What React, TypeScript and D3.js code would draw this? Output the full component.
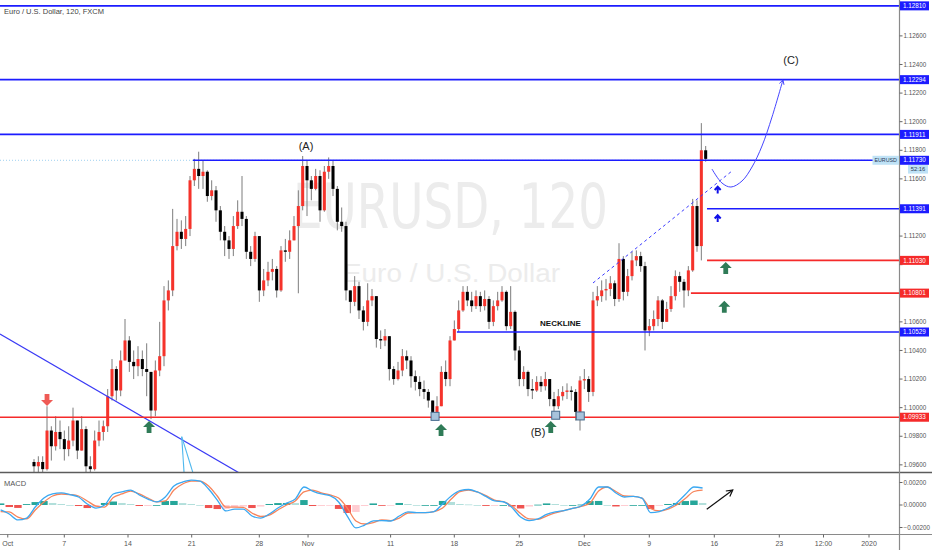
import React from 'react';
import * as d3 from 'd3';

// ---------- price data (2h EURUSD, sampled) ----------
const firstBarDay = 1.67;
const barStepDays = 1 / 3;
const firstOpen = 1.0962;
const closes = [
  1.0959,1.0962,1.0957,1.0984,1.0973,1.0983,1.0978,1.0971,1.0977,1.0991,
  1.0970,1.0985,1.0959,1.0957,1.0977,1.0983,1.0987,1.1008,1.1027,1.1012,
  1.1033,1.1047,1.1032,1.1029,1.1034,1.1027,1.1025,1.0998,1.1026,1.1036,
  1.1075,1.1082,1.1113,1.1123,1.1118,1.1125,1.1159,1.1167,1.1162,1.1165,
  1.1148,1.1152,1.1138,1.1123,1.1117,1.1111,1.1127,1.1137,1.1132,1.1109,
  1.1104,1.1120,1.1082,1.1089,1.1095,1.1097,1.1082,1.1110,1.1109,1.1117,
  1.1127,1.1141,1.1169,1.1159,1.1153,1.1162,1.1138,1.1165,1.1169,1.1153,
  1.1130,1.1127,1.1082,1.1074,1.1085,1.1068,1.1060,1.1075,1.1078,1.1048,
  1.1047,1.1050,1.1027,1.1020,1.1026,1.1036,1.1033,1.1022,1.1018,1.1013,
  1.1011,1.1005,1.0997,1.1001,1.1025,1.1020,1.1047,1.1055,1.1068,1.1081,
  1.1075,1.1071,1.1078,1.1071,1.1076,1.1060,1.1071,1.1075,1.1081,1.1057,
  1.1067,1.1040,1.1020,1.1025,1.1013,1.1012,1.1018,1.1015,1.1020,1.1006,
  1.1001,1.1008,1.1011,1.1012,1.1011,1.0997,1.1019,1.1020,1.1011,1.1075,
  1.1078,1.1082,1.1083,1.1087,1.1076,1.1104,1.1081,1.1092,1.1103,1.1106,
  1.1099,1.1054,1.1057,1.1062,1.1075,1.1060,1.1069,1.1078,1.1092,1.1088,
  1.1082,1.1096,1.1141,1.1113,1.1180,1.1174,
];
const highs = [
  1.0964,1.0966,1.0966,1.1001,1.0987,1.0994,1.0991,1.0984,1.0987,1.1000,
  1.0987,1.0994,1.0987,1.0966,1.0984,1.0991,1.0991,1.1013,1.1034,1.1029,
  1.1040,1.1062,1.1050,1.1040,1.1043,1.1040,1.1045,1.1019,1.1033,1.1060,
  1.1085,1.1089,1.1139,1.1132,1.1131,1.1134,1.1162,1.1174,1.1179,1.1173,
  1.1166,1.1159,1.1155,1.1141,1.1127,1.1120,1.1134,1.1145,1.1162,1.1134,
  1.1113,1.1123,1.1120,1.1097,1.1102,1.1104,1.1099,1.1113,1.1118,1.1124,
  1.1134,1.1152,1.1176,1.1173,1.1162,1.1167,1.1166,1.1169,1.1175,1.1173,
  1.1155,1.1140,1.1130,1.1082,1.1092,1.1088,1.1071,1.1087,1.1083,1.1078,
  1.1054,1.1055,1.1050,1.1029,1.1032,1.1041,1.1040,1.1036,1.1026,1.1022,
  1.1019,1.1013,1.1005,1.1008,1.1029,1.1033,1.1050,1.1061,1.1075,1.1085,
  1.1085,1.1081,1.1082,1.1081,1.1082,1.1078,1.1075,1.1081,1.1085,1.1082,
  1.1085,1.1068,1.1043,1.1029,1.1026,1.1020,1.1022,1.1022,1.1025,1.1020,
  1.1011,1.1013,1.1015,1.1017,1.1015,1.1013,1.1022,1.1027,1.1022,1.1081,
  1.1085,1.1089,1.1090,1.1092,1.1089,1.1115,1.1106,1.1097,1.1109,1.1110,
  1.1109,1.1102,1.1062,1.1068,1.1078,1.1076,1.1074,1.1085,1.1096,1.1095,
  1.1090,1.1099,1.1146,1.1145,1.1199,1.1183,
];
const lows = [
  1.0949,1.0955,1.0950,1.0956,1.0963,1.0970,1.0971,1.0963,1.0966,1.0973,
  1.0964,1.0977,1.0952,1.0950,1.0956,1.0973,1.0977,1.0983,1.1005,1.1005,
  1.1008,1.1033,1.1025,1.1020,1.1022,1.1022,1.1008,1.0992,1.0994,1.1022,
  1.1029,1.1068,1.1078,1.1110,1.1111,1.1113,1.1120,1.1155,1.1153,1.1153,
  1.1144,1.1145,1.1130,1.1117,1.1106,1.1104,1.1106,1.1125,1.1127,1.1104,
  1.1099,1.1102,1.1074,1.1078,1.1085,1.1089,1.1077,1.1081,1.1102,1.1104,
  1.1117,1.1080,1.1138,1.1134,1.1145,1.1152,1.1130,1.1137,1.1160,1.1148,
  1.1124,1.1123,1.1075,1.1066,1.1071,1.1062,1.1054,1.1057,1.1071,1.1042,
  1.1041,1.1043,1.1019,1.1016,1.1019,1.1022,1.1027,1.1014,1.1012,1.1008,
  1.1006,1.1000,1.0993,1.0992,1.1001,1.1015,1.1015,1.1047,1.1053,1.1067,
  1.1071,1.1067,1.1069,1.1067,1.1068,1.1055,1.1057,1.1068,1.1074,1.1054,
  1.1055,1.1033,1.1015,1.1015,1.1008,1.1006,1.1011,1.1011,1.1012,1.1001,
  1.0994,1.0999,1.1005,1.1006,1.1005,1.0991,1.0984,1.1013,1.1004,1.1008,
  1.1071,1.1074,1.1075,1.1078,1.1071,1.1074,1.1075,1.1078,1.1089,1.1099,
  1.1095,1.1040,1.1050,1.1054,1.1057,1.1055,1.1062,1.1067,1.1075,1.1081,
  1.1070,1.1078,1.1095,1.1109,1.1103,1.1172,
];

// ---------- MACD ----------
const macdStartDay = -0.9;
const macdStepDays = 2 / 3;
const macdLine = [
  -0.00044,-0.00080,-0.00133,-0.00116,-0.00018,0.00062,0.00098,0.00107,0.00093,0.00071,
  0.00009,-0.00027,0.00000,0.00098,0.00116,0.00133,0.00089,0.00053,0.00027,0.00071,
  0.00169,0.00204,0.00222,0.00213,0.00142,0.00044,-0.00053,-0.00036,-0.00036,-0.00098,
  -0.00116,-0.00080,-0.00027,0.00018,0.00053,0.00160,0.00124,0.00098,0.00084,0.00027,
  -0.00098,-0.00204,-0.00178,-0.00142,-0.00138,-0.00142,-0.00098,-0.00062,-0.00067,-0.00067,
  -0.00058,0.00009,0.00080,0.00127,0.00138,0.00116,0.00076,0.00036,0.00029,-0.00022,
  -0.00107,-0.00138,-0.00124,-0.00084,-0.00062,-0.00049,-0.00031,-0.00009,0.00053,0.00160,
  0.00160,0.00107,0.00071,0.00077,0.00062,-0.00067,-0.00058,-0.00027,0.00018,0.00093,
  0.00160,0.00151,
];
const signalLine = [
  -0.00058,-0.00062,-0.00107,-0.00124,-0.00044,0.00027,0.00080,0.00098,0.00093,0.00080,
  0.00036,-0.00009,-0.00018,0.00067,0.00098,0.00124,0.00098,0.00062,0.00027,0.00036,
  0.00133,0.00187,0.00213,0.00213,0.00169,0.00080,-0.00018,-0.00018,-0.00022,-0.00071,
  -0.00102,-0.00089,-0.00044,0.00000,0.00036,0.00116,0.00133,0.00107,0.00089,0.00062,
  -0.00027,-0.00142,-0.00169,-0.00156,-0.00133,-0.00138,-0.00116,-0.00071,-0.00067,-0.00067,
  -0.00058,-0.00027,0.00053,0.00118,0.00133,0.00116,0.00084,0.00044,0.00029,-0.00009,
  -0.00076,-0.00124,-0.00127,-0.00098,-0.00071,-0.00049,-0.00031,-0.00013,0.00018,0.00124,
  0.00160,0.00120,0.00080,0.00077,0.00062,-0.00031,-0.00053,-0.00036,0.00000,0.00058,
  0.00120,0.00133,
];

// ---------- axes ----------
const priceTicks = [1.096,1.098,1.100,1.102,1.104,1.106,1.108,1.110,1.112,1.114,1.116,1.118,1.120,1.122,1.124,1.126,1.128];
const macdTicks = [0.002, 0, -0.002];
const timeLabels = ['Oct','7','14','21','28','Nov','11','18','25','Dec','9','16','23','12:00','2020'];
const timeDays = [-0.35,4,8.9,13.8,19,22.75,29.1,34,39,44,49,54,59,62.4,65.9];

// ---------- drawn levels ----------
const levelPrices = [1.12810,1.12294,1.11911,1.11730,1.11391,1.11030,1.10801,1.10529,1.09933];
const levelFromDays = [-2,-2,-2,13.9,53.44,53.44,52.2,34.2,-2];
const levelKinds = ['up','up','up','up','up','down','down','up','down'];
const lastPrice = 1.11730;

// ---------- annotations ----------
const trendDays = [-0.95, 17.9];
const trendPrices = [1.10515, 1.0952];
const fanStart = { day: 13.03, price: 1.09797 };
const fanEndDays = [13.25, 14.07];
const fanEndPrice = 1.09494;
const channelDays = [44.67, 55.36];
const channelPrices = [1.10872, 1.11655];
const pathDays = [53.82, 54.59, 55.28, 56.13, 56.9, 57.67, 58.44, 59.28];
const pathPrices = [1.11669, 1.11571, 1.11543, 1.11585, 1.11683, 1.1183, 1.12033, 1.12292];
const greenDays = [10.52, 32.98, 41.42, 54.88, 54.77];
const greenPrices = [1.09865, 1.09844, 1.09865, 1.10977, 1.10706];
const redDays = [2.67];
const redPrices = [1.10054];
const blueArrowDays = [54.26, 54.26];
const blueArrowPrices = [1.11522, 1.11323];
const boxDays = [32.52, 41.8, 43.69];
const boxPrices = [1.09939, 1.09947, 1.09942];
const waveLabels = ['(A)', '(B)', '(C)'];
const waveDays = [22.59, 40.44, 59.9];
const wavePrices = [1.1183, 1.0983, 1.12431];
const necklineDay = 42.17;
const necklinePrice = 1.10587;
const macdArrowDays = [53.42, 55.42];
const macdArrowValues = [-0.00038, 0.00133];

const BLUE = '#1c1cff';
const RED = '#f52a2a';
const FONT = "'Liberation Sans', Arial, sans-serif";

export default function App() {
  const W = 932, H = 550;
  const axisX = 899.5;
  const paneBottom = 472;
  const macdTop = 473, macdBottom = 534.5;

  const x = d3.scaleLinear().domain([0, 60]).range([12.3, 792.3]);
  const yP = d3.scaleLinear().domain([1.0955, 1.12851]).range([paneBottom, 0]);
  const yM = d3.scaleLinear().domain([-0.002, 0.002]).range([527.5, 482.5]);
  const f5 = d3.format('.5f');

  const barW = (x(barStepDays) - x(0)) * 0.7;
  const bars = closes.map((c, i) => {
    const open = i === 0 ? firstOpen : closes[i - 1];
    return { day: firstBarDay + i * barStepDays, open, close: c, high: highs[i], low: lows[i] };
  });

  const macdPts = macdLine.map((m, i) => ({ day: macdStartDay + i * macdStepDays, m, s: signalLine[i] }));
  const histW = (x(macdStepDays) - x(0)) - 1.2;
  const lineM = d3.line<any>().x(d => x(d.day)).y(d => yM(d.m)).curve(d3.curveMonotoneX);
  const lineS = d3.line<any>().x(d => x(d.day)).y(d => yM(d.s)).curve(d3.curveMonotoneX);

  const pathPts: [number, number][] = pathDays.map((d, i) => [x(d), yP(pathPrices[i])]);
  const curvePath = d3.line().curve(d3.curveCatmullRom.alpha(0.5))(pathPts) || '';
  const tip = pathPts[pathPts.length - 1];
  const prev = pathPts[pathPts.length - 2];
  const ang = Math.atan2(tip[1] - prev[1], tip[0] - prev[0]);
  const head = (t: [number, number], a: number, L: number) => {
    const p1 = [t[0] - L * Math.cos(a - 0.5), t[1] - L * Math.sin(a - 0.5)];
    const p2 = [t[0] - L * Math.cos(a + 0.5), t[1] - L * Math.sin(a + 0.5)];
    return `M${p1[0]},${p1[1]}L${t[0]},${t[1]}L${p2[0]},${p2[1]}`;
  };

  const ma0: [number, number] = [x(macdArrowDays[0]), yM(macdArrowValues[0])];
  const ma1: [number, number] = [x(macdArrowDays[1]), yM(macdArrowValues[1])];
  const maAng = Math.atan2(ma1[1] - ma0[1], ma1[0] - ma0[0]);

  const greenArrow = (cx: number, cy: number) =>
    `M${cx},${cy - 6}L${cx + 6},${cy}L${cx + 2.4},${cy}L${cx + 2.4},${cy + 6}L${cx - 2.4},${cy + 6}L${cx - 2.4},${cy}L${cx - 6},${cy}Z`;
  const redArrow = (cx: number, cy: number) =>
    `M${cx},${cy + 6}L${cx + 6},${cy}L${cx + 2.4},${cy}L${cx + 2.4},${cy - 6}L${cx - 2.4},${cy - 6}L${cx - 2.4},${cy}L${cx - 6},${cy}Z`;

  // hide axis tick labels that sit under a level label
  const visibleTicks = priceTicks.filter(t => levelPrices.every(p => Math.abs(yP(p) - yP(t)) > 8.5));

  return (
    <svg width={W} height={H} style={{ position: 'absolute', left: 0, top: 0, background: '#fff' }} fontFamily={FONT}>
      <defs>
        <clipPath id="pane"><rect x={0} y={0} width={axisX} height={paneBottom} /></clipPath>
        <clipPath id="macd"><rect x={0} y={macdTop} width={axisX} height={macdBottom - macdTop} /></clipPath>
      </defs>
      <rect x={0} y={0} width={W} height={H} fill="#fff" />

      {/* watermark */}
      <text x={450.5} y={228} textAnchor="middle" fontSize={62} fill="#ececec"
        fontFamily="'Liberation Sans Narrow', 'DejaVu Sans Condensed', Arial, sans-serif"
        textLength={315} lengthAdjust="spacingAndGlyphs">EURUSD, 120</text>
      <text x={451.5} y={282} textAnchor="middle" fontSize={26} fill="#ececec"
        textLength={217} lengthAdjust="spacingAndGlyphs">Euro / U.S. Dollar</text>

      <g clipPath="url(#pane)">
        {/* last price dotted line */}
        <line x1={0} x2={axisX} y1={yP(lastPrice)} y2={yP(lastPrice)} stroke="#9fd0f0" strokeWidth={1} strokeDasharray="1,2" />

        {/* candles */}
        {bars.map((b, i) => {
          const cx = x(b.day);
          const top = Math.max(b.high, b.open, b.close);
          const bot = Math.min(b.low, b.open, b.close);
          const up = b.close >= b.open;
          const y1 = yP(Math.max(b.open, b.close));
          const y2 = yP(Math.min(b.open, b.close));
          return (
            <g key={i}>
              <line x1={cx} x2={cx} y1={yP(top)} y2={yP(bot)} stroke="#7d7d7d" strokeWidth={1} />
              <rect x={cx - barW / 2} y={y1} width={barW} height={Math.max(1, y2 - y1)} fill={up ? '#f5332b' : '#000'} />
            </g>
          );
        })}

        {/* trend line & fan */}
        <line x1={x(trendDays[0])} y1={yP(trendPrices[0])} x2={x(trendDays[1])} y2={yP(trendPrices[1])} stroke="#3a3af5" strokeWidth={1.2} />
        {fanEndDays.map((d, i) => (
          <line key={i} x1={x(fanStart.day)} y1={yP(fanStart.price)} x2={x(d)} y2={yP(fanEndPrice)} stroke="#4fb8ee" strokeWidth={1.1} />
        ))}

        {/* horizontal levels */}
        {levelPrices.map((p, i) => (
          <line key={i} x1={x(levelFromDays[i])} x2={axisX} y1={yP(p)} y2={yP(p)}
            stroke={levelKinds[i] === 'up' ? BLUE : RED} strokeWidth={1.6} />
        ))}

        {/* dashed channel */}
        <line x1={x(channelDays[0])} y1={yP(channelPrices[0])} x2={x(channelDays[1])} y2={yP(channelPrices[1])}
          stroke="#3c3cff" strokeWidth={1} strokeDasharray="3,3" />

        {/* projected path */}
        <path d={curvePath} fill="none" stroke="#4646ff" strokeWidth={1} />
        <path d={head(tip, ang, 5)} fill="none" stroke="#4646ff" strokeWidth={1} />

        {/* markers */}
        {greenDays.map((d, i) => (
          <path key={i} d={greenArrow(x(d), yP(greenPrices[i]))} fill="#2f7b57" />
        ))}
        {redDays.map((d, i) => (
          <path key={i} d={redArrow(x(d), yP(redPrices[i]))} fill="#ef5a55" />
        ))}
        {blueArrowDays.map((d, i) => {
          const cx = x(d), cy = yP(blueArrowPrices[i]);
          return <path key={i} d={`M${cx - 3},${cy}L${cx},${cy - 3.2}L${cx + 3},${cy}M${cx},${cy - 3.2}L${cx},${cy + 3.5}`}
            fill="none" stroke="#1010e8" strokeWidth={2} />;
        })}
        {boxDays.map((d, i) => (
          <rect key={i} x={x(d) - 4} y={yP(boxPrices[i]) - 4} width={8} height={8} fill="#a8c3dc" stroke="#46698c" strokeWidth={1} />
        ))}

        {waveLabels.map((t, i) => (
          <text key={t} x={x(waveDays[i])} y={yP(wavePrices[i])} textAnchor="middle" dominantBaseline="central"
            fontSize={11} fill="#222">{t}</text>
        ))}
        <text x={x(necklineDay)} y={yP(necklinePrice)} textAnchor="middle" dominantBaseline="central"
          fontSize={8} fontWeight="bold" fill="#111">NECKLINE</text>
      </g>

      {/* title */}
      <text x={4} y={13.5} fontSize={7.5} fill="#444">Euro / U.S. Dollar, 120, FXCM</text>

      {/* MACD pane */}
      <g clipPath="url(#macd)">
        {macdPts.map((p, i) => {
          const h = p.m - p.s;
          const ph = i > 0 ? macdPts[i - 1].m - macdPts[i - 1].s : h;
          const col = h >= 0 ? (h >= ph ? '#26a69a' : '#b2dfdb') : (h < ph ? '#ef5350' : '#ffcdd2');
          const y0 = yM(0), y1 = yM(h);
          return <rect key={i} x={x(p.day) - histW / 2} y={Math.min(y0, y1)} width={histW}
            height={Math.max(0.8, Math.abs(y1 - y0))} fill={col} />;
        })}
        <path d={lineS(macdPts) || ''} fill="none" stroke="#f7845b" strokeWidth={1.3} />
        <path d={lineM(macdPts) || ''} fill="none" stroke="#3aa8f2" strokeWidth={1.3} />
        <line x1={ma0[0]} y1={ma0[1]} x2={ma1[0]} y2={ma1[1]} stroke="#111" strokeWidth={1.2} />
        <path d={head(ma1, maAng, 7)} fill="none" stroke="#111" strokeWidth={1.2} />
      </g>
      <text x={4} y={486} fontSize={7.5} fill="#555">MACD</text>

      {/* separators */}
      <line x1={0} x2={W} y1={paneBottom + 0.5} y2={paneBottom + 0.5} stroke="#5c5c5c" strokeWidth={1.5} />
      <line x1={0} x2={W} y1={macdBottom} y2={macdBottom} stroke="#8a8a8a" strokeWidth={1.2} />
      <line x1={axisX} x2={axisX} y1={0} y2={H} stroke="#8a8a8a" strokeWidth={1.2} />

      {/* price axis ticks */}
      {priceTicks.map(t => (
        <line key={'m' + t} x1={axisX} x2={axisX + 3} y1={yP(t)} y2={yP(t)} stroke="#666" strokeWidth={1} />
      ))}
      {visibleTicks.map(t => (
        <text key={'t' + t} x={axisX + 4} y={yP(t)} dy="0.35em" fontSize={6.3} fill="#555">{f5(t)}</text>
      ))}
      {macdTicks.map(t => (
        <g key={t}>
          <line x1={axisX} x2={axisX + 3} y1={yM(t)} y2={yM(t)} stroke="#666" strokeWidth={1} />
          <text x={axisX + 4} y={yM(t)} dy="0.35em" fontSize={6.3} fill="#555">{f5(t)}</text>
        </g>
      ))}

      {/* level labels */}
      {levelPrices.map((p, i) => (
        <g key={i}>
          <rect x={axisX + 0.5} y={yP(p) - 4.5} width={29} height={9} fill={levelKinds[i] === 'up' ? BLUE : RED} />
          <text x={axisX + 15} y={yP(p)} dy="0.35em" textAnchor="middle" fontSize={6.3} fill="#fff">{f5(p)}</text>
        </g>
      ))}
      {/* symbol tag & countdown */}
      <rect x={872.5} y={yP(lastPrice) - 4.5} width={26.5} height={9} fill="#bfe2f6" />
      <text x={885.7} y={yP(lastPrice)} dy="0.35em" textAnchor="middle" fontSize={5.3} fill="#2a3a55">EURUSD</text>
      <rect x={908} y={yP(lastPrice) + 4.8} width={20} height={8.5} fill="#bfe2f6" />
      <text x={918} y={yP(lastPrice) + 9} dy="0.35em" textAnchor="middle" fontSize={5.8} fill="#2a3a55">52:16</text>

      {/* time axis */}
      {timeLabels.map((t, i) => (
        <g key={t}>
          <line x1={x(timeDays[i])} x2={x(timeDays[i])} y1={macdBottom} y2={macdBottom + 3} stroke="#666" strokeWidth={1} />
          <text x={x(timeDays[i])} y={545.5} textAnchor="middle" fontSize={7} fill="#555">{t}</text>
        </g>
      ))}
    </svg>
  );
}
